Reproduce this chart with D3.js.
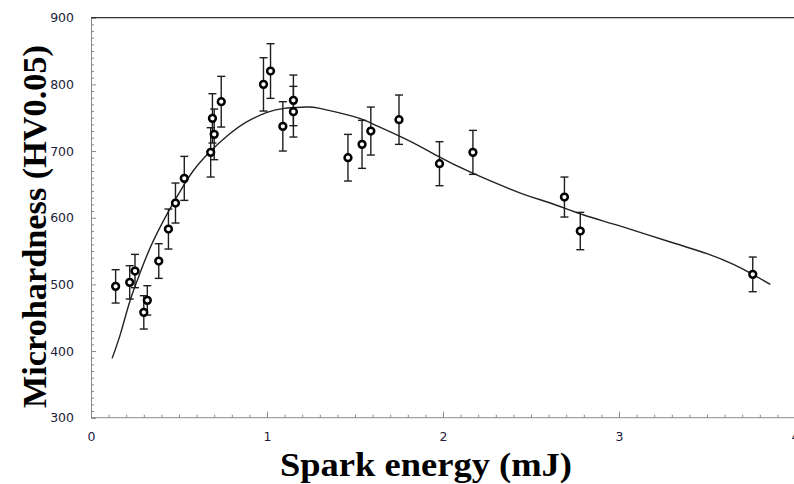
<!DOCTYPE html>
<html>
<head>
<meta charset="utf-8">
<script src="https://cdn.jsdelivr.net/npm/d3@7"></script>
<style>
  html, body { margin: 0; padding: 0; background: #fff; }
  svg { display: block; }
</style>
</head>
<body>
<svg id="chart" width="794" height="484"></svg>
<script>
// Measured microhardness vs. spark energy, with standard deviation
const energy   = [0.14, 0.22, 0.25, 0.32, 0.30, 0.385, 0.44, 0.48, 0.53, 0.68, 0.70, 0.69, 0.74,
                  0.98, 1.02, 1.09, 1.15, 1.15, 1.46, 1.54, 1.59, 1.75, 1.98, 2.17, 2.69, 2.78, 3.76];
const hardness = [497, 503, 520, 476, 458, 535, 583, 622, 659, 698, 725, 749, 774,
                  800, 820, 737, 776, 759, 690, 710, 730, 747, 681, 698, 631, 580, 515];
const stdDev   = [25, 25, 25, 22, 25, 26, 30, 30, 33, 37, 38, 37, 38,
                  40, 41, 37, 38, 38, 35, 36, 36, 37, 33, 33, 30, 28, 26];

// Fitted trend line
const fitEnergy   = [0.12, 0.17, 0.22, 0.28, 0.35, 0.45, 0.51, 0.58, 0.68, 0.78, 0.88, 1.00, 1.10,
                     1.22, 1.30, 1.49, 1.59, 1.78, 1.96, 2.15, 2.44, 2.61, 2.80, 3.00, 3.31,
                     3.50, 3.65, 3.76, 3.86];
const fitHardness = [389, 428, 474, 518, 563, 614, 641, 670, 700, 724, 743, 758, 764,
                     766, 764, 752, 742, 719, 694, 669, 637, 622, 604, 588, 562,
                     546, 530, 515, 500];

const xTicks = [0, 1, 2, 3, 4];
const yTicks = [300, 400, 500, 600, 700, 800, 900];

const svg = d3.select("#chart");
const plotLeft = 91, plotRight = 795, plotTop = 17.7, plotBottom = 417.7;

const x = d3.scaleLinear().domain([0, 4]).range([plotLeft, plotRight]);
const y = d3.scaleLinear().domain([300, 900]).range([plotBottom, plotTop]);

const axisColor = "#8a8a8a";
const labelColor = "#1c1c3a";

// minor ticks
const xMinor = d3.range(0, 40).map(i => i / 10).filter(v => !xTicks.includes(v));
const yMinor = d3.range(300, 901, 10).filter(v => !yTicks.includes(v));

const gx = svg.append("g").attr("transform", `translate(0,${plotBottom})`);
gx.call(d3.axisBottom(x).tickValues(xMinor).tickSize(-3).tickFormat(""));
gx.call(g => g.select(".domain").remove());
const gxMajor = svg.append("g").attr("transform", `translate(0,${plotBottom})`)
  .call(d3.axisBottom(x).tickValues(xTicks).tickSize(-6).tickPadding(14).tickFormat(d3.format("d")));
gxMajor.select(".domain").attr("d", `M${plotLeft},0H794`);

const gy = svg.append("g").attr("transform", `translate(${plotLeft},0)`);
gy.call(d3.axisLeft(y).tickValues(yMinor).tickSize(-3).tickFormat(""));
gy.call(g => g.select(".domain").remove());
const gyMajor = svg.append("g").attr("transform", `translate(${plotLeft},0)`)
  .call(d3.axisLeft(y).tickValues(yTicks).tickSize(-5).tickPadding(17).tickFormat(d3.format("d")));

svg.selectAll(".domain, .tick line").attr("stroke", axisColor).attr("stroke-width", 1);
svg.selectAll(".tick text")
  .attr("fill", labelColor)
  .style("font-family", "'DejaVu Sans', Verdana, sans-serif")
  .style("font-size", "12.5px");

// top frame line
svg.append("line")
  .attr("x1", plotLeft).attr("x2", 794)
  .attr("y1", plotTop).attr("y2", plotTop)
  .attr("stroke", "#333").attr("stroke-width", 1.2);

// fitted curve
const line = d3.line()
  .x((d, i) => x(fitEnergy[i]))
  .y((d, i) => y(fitHardness[i]))
  .curve(d3.curveNatural);
svg.append("path")
  .attr("d", line(fitEnergy))
  .attr("fill", "none")
  .attr("stroke", "#222")
  .attr("stroke-width", 1.4);

// error bars
const pts = energy.map((e, i) => ({ e, h: hardness[i], s: stdDev[i] }));
const eb = svg.append("g").attr("stroke", "#1e1e1e").attr("stroke-width", 1.4);
const cap = 4;
pts.forEach(p => {
  const cx = x(p.e), y1 = y(p.h + p.s), y2 = y(p.h - p.s);
  eb.append("line").attr("x1", cx).attr("x2", cx).attr("y1", y1).attr("y2", y2);
  eb.append("line").attr("x1", cx - cap).attr("x2", cx + cap).attr("y1", y1).attr("y2", y1);
  eb.append("line").attr("x1", cx - cap).attr("x2", cx + cap).attr("y1", y2).attr("y2", y2);
});

// markers
svg.append("g").selectAll("circle").data(pts).join("circle")
  .attr("cx", d => x(d.e)).attr("cy", d => y(d.h))
  .attr("r", 3.4)
  .attr("fill", "#fff")
  .attr("stroke", "#000")
  .attr("stroke-width", 2.5);

// axis titles
svg.append("text")
  .attr("x", 426).attr("y", 476)
  .attr("text-anchor", "middle")
  .attr("textLength", 292).attr("lengthAdjust", "spacingAndGlyphs")
  .style("font-family", "'Liberation Serif', 'Times New Roman', serif")
  .style("font-weight", "bold")
  .style("font-size", "34px")
  .attr("fill", "#000")
  .text("Spark energy (mJ)");

svg.append("text")
  .attr("transform", "translate(46,226.5) rotate(-90)")
  .attr("text-anchor", "middle")
  .attr("textLength", 363).attr("lengthAdjust", "spacingAndGlyphs")
  .style("font-family", "'Liberation Serif', 'Times New Roman', serif")
  .style("font-weight", "bold")
  .style("font-size", "34px")
  .attr("fill", "#000")
  .text("Microhardness (HV0.05)");
</script>
</body>
</html>
